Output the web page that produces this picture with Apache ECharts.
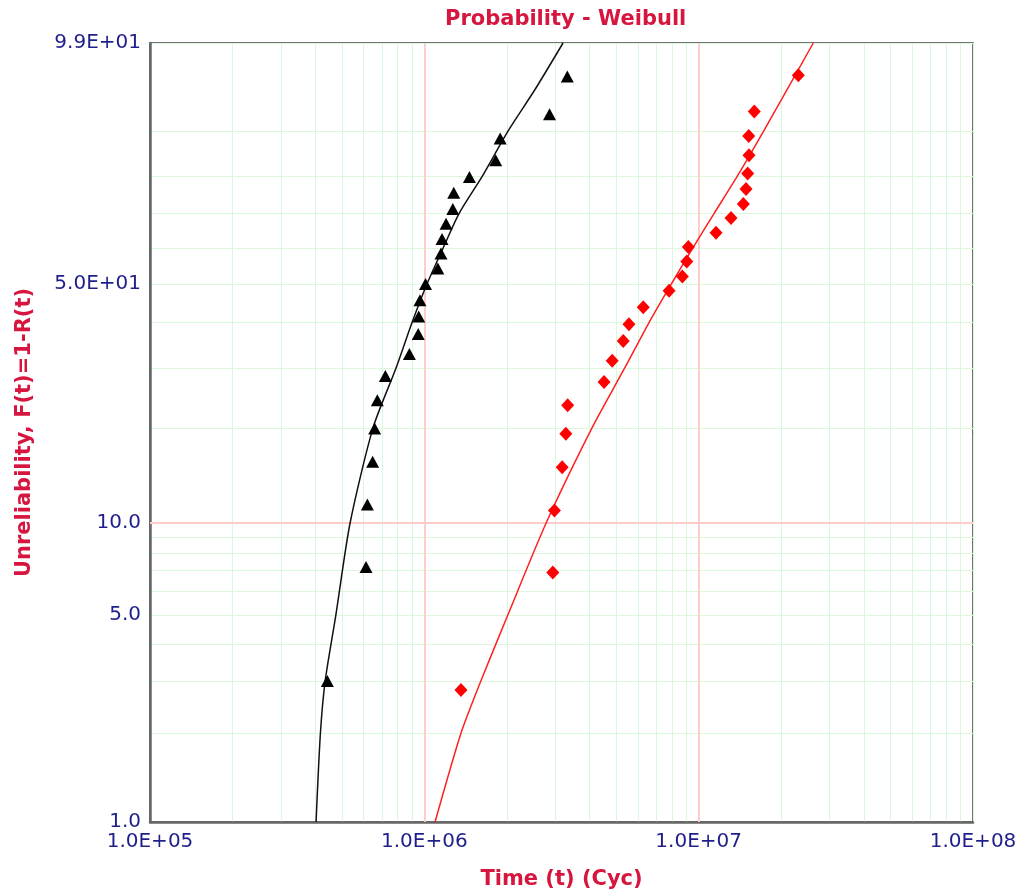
<!DOCTYPE html>
<html>
<head>
<meta charset="utf-8">
<script src="https://cdn.jsdelivr.net/npm/echarts@6/dist/echarts.min.js"></script>
<style>
html,body{margin:0;padding:0;background:#fff;}
#chart{width:1024px;height:896px;}
</style>
</head>
<body>
<div id="chart"></div>
<script>
// observed points: time (cycles) and unreliability (%)
var blackTime = [4.43e5, 6.13e5, 6.20e5, 6.48e5, 6.59e5, 6.74e5, 7.21e5, 8.82e5, 9.50e5, 9.54e5, 9.64e5, 1.01e6,
                 1.12e6, 1.15e6, 1.16e6, 1.20e6, 1.27e6, 1.28e6, 1.46e6, 1.82e6, 1.89e6, 2.86e6, 3.32e6];
var blackUnrel = [3.0, 7.2, 11.5, 15.7, 19.9, 24.2, 28.5, 32.9, 37.3, 41.5, 45.6, 49.9,
                  54.2, 58.5, 62.7, 67.1, 71.3, 75.8, 79.9, 84.0, 88.6, 92.8, 97.1];

var redTime = [1.36e6, 2.94e6, 2.98e6, 3.18e6, 3.28e6, 3.33e6, 4.52e6, 4.84e6, 5.31e6, 5.57e6, 6.28e6, 7.80e6,
               8.72e6, 9.05e6, 9.17e6, 1.157e7, 1.312e7, 1.455e7, 1.488e7, 1.509e7, 1.526e7, 1.522e7, 1.595e7, 2.308e7];
var redUnrel = [2.8, 6.9, 11.0, 15.1, 19.2, 23.4, 27.4, 31.5, 35.7, 39.6, 43.8, 48.1,
                52.0, 56.2, 60.4, 64.5, 68.7, 72.7, 76.8, 80.8, 85.1, 89.1, 93.2, 97.2];

// fitted curves
var blackFitTime = [4.03e5, 4.18e5, 4.35e5, 4.76e5, 5.36e5, 6.50e5, 7.88e5, 9.02e5, 1.023e6, 1.170e6, 1.338e6, 1.623e6, 2.018e6, 2.532e6, 3.203e6];
var blackFitUnrel = [1, 2, 3, 5, 10, 20, 30, 40, 50, 60, 70, 80, 90, 95.9, 99];
var redFitTime = [1.094e6, 1.360e6, 1.607e6, 2.017e6, 2.777e6, 4.085e6, 5.370e6, 6.592e6, 7.962e6, 9.504e6, 1.1375e7, 1.3798e7, 1.7249e7, 2.617e7];
var redFitUnrel = [1, 2, 3, 5, 10, 20, 30, 40, 50, 60, 70, 80, 90, 99];

// axes
var xDecades = [1e5, 1e6, 1e7, 1e8];
var xTickLabels = ['1.0E+05', '1.0E+06', '1.0E+07', '1.0E+08'];
var yGridValues = [1, 2, 3, 4, 5, 6, 7, 8, 9, 10, 20, 30, 40, 50, 60, 70, 80, 90, 99];
var yLabelValues = [1, 5, 10, 50, 99];
var yTickLabels = ['1.0', '5.0', '10.0', '5.0E+01', '9.9E+01'];
var refX = [1e6, 1e7];
var refY = [10];

var weib = function (f) { return Math.log(-Math.log(1 - f / 100)); };
var lg = function (t) { return Math.log10(t); };
function pairs(ts, fs) {
    return ts.map(function (t, i) { return [lg(t), weib(fs[i])]; });
}

var xGrid = [];
for (var d = 0; d < xDecades.length - 1; d++) {
    for (var k = 1; k <= 9; k++) xGrid.push(lg(xDecades[d] * k));
}
xGrid.push(lg(xDecades[xDecades.length - 1]));

var labelColor = '#1f1f8c';
var titleColor = '#d6163f';
var font = 'DejaVu Sans';

var chart = echarts.init(document.getElementById('chart'));
chart.setOption({
    animation: false,
    backgroundColor: '#fff',
    title: {
        text: 'Probability - Weibull',
        left: 440,
        top: 4,
        textStyle: { color: titleColor, fontSize: 21, fontWeight: 'bold', fontFamily: font }
    },
    grid: {
        left: 150, top: 43, width: 823, height: 779,
        show: true, borderColor: '#444', borderWidth: 1.5
    },
    xAxis: {
        type: 'value',
        min: lg(xDecades[0]),
        max: lg(xDecades[xDecades.length - 1]),
        axisLine: { show: true, onZero: false, lineStyle: { color: '#666', width: 2.5 } },
        axisTick: { show: false, customValues: xGrid },
        splitLine: { show: true, lineStyle: { color: '#dcf8dc', width: 1 } },
        axisLabel: {
            customValues: xDecades.map(lg),
            formatter: function (v) { return xTickLabels[Math.round(v) - 5]; },
            color: labelColor, fontSize: 20, fontFamily: font, margin: 10
        },
        name: 'Time (t) (Cyc)',
        nameLocation: 'middle',
        nameGap: 47,
        nameTextStyle: { color: titleColor, fontSize: 21, fontWeight: 'bold', fontFamily: font }
    },
    yAxis: {
        type: 'value',
        min: weib(yGridValues[0]),
        max: weib(yGridValues[yGridValues.length - 1]),
        axisLine: { show: true, onZero: false, lineStyle: { color: '#666', width: 2.5 } },
        axisTick: { show: false, customValues: yGridValues.map(weib) },
        splitLine: { show: true, lineStyle: { color: '#dcf8dc', width: 1 } },
        axisLabel: {
            customValues: yLabelValues.map(weib),
            formatter: function (v) {
                for (var i = 0; i < yLabelValues.length; i++) {
                    if (Math.abs(weib(yLabelValues[i]) - v) < 1e-4) return yTickLabels[i];
                }
                return '';
            },
            color: labelColor, fontSize: 20, fontFamily: font, margin: 9
        },
        name: 'Unreliability, F(t)=1-R(t)',
        nameLocation: 'middle',
        nameGap: 115,
        nameTextStyle: { color: titleColor, fontSize: 21, fontWeight: 'bold', fontFamily: font }
    },
    series: [
        {
            name: 'ref',
            type: 'line',
            data: [],
            markLine: {
                silent: true,
                symbol: 'none',
                z: 1,
                label: { show: false },
                lineStyle: { color: '#ffcccc', width: 2, type: 'solid' },
                data: refX.map(function (t) { return { xAxis: lg(t) }; })
                    .concat(refY.map(function (f) { return { yAxis: weib(f) }; }))
            }
        },
        {
            name: 'fit1',
            type: 'line',
            data: pairs(blackFitTime, blackFitUnrel),
            showSymbol: false,
            smooth: 0.25,
            lineStyle: { color: '#111', width: 1.5 },
            z: 3
        },
        {
            name: 'fit2',
            type: 'line',
            data: pairs(redFitTime, redFitUnrel),
            showSymbol: false,
            smooth: 0.25,
            lineStyle: { color: '#ff2020', width: 1.5 },
            z: 3
        },
        {
            name: 'data1',
            type: 'scatter',
            data: pairs(blackTime, blackUnrel),
            symbol: 'triangle',
            symbolSize: [13, 12],
            itemStyle: { color: '#000', opacity: 1 },
            z: 4
        },
        {
            name: 'data2',
            type: 'scatter',
            data: pairs(redTime, redUnrel),
            symbol: 'diamond',
            symbolSize: [13, 14],
            itemStyle: { color: '#ff0000', opacity: 1 },
            z: 4
        }
    ]
});
</script>
</body>
</html>
